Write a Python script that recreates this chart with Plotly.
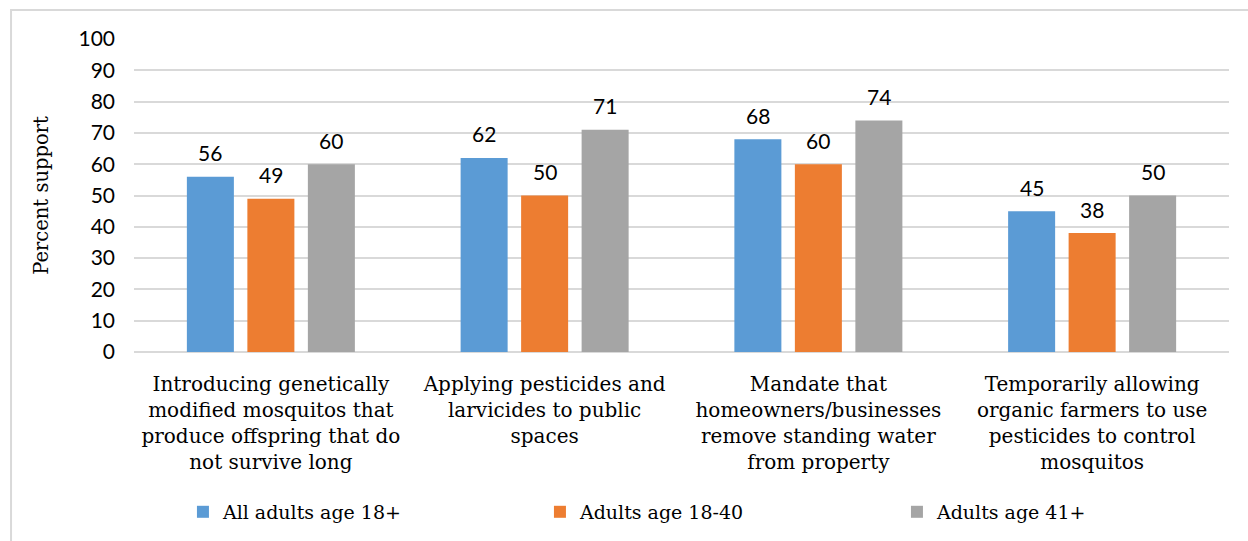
import plotly.graph_objects as go

# Survey: support for mosquito-control measures, by age group
categories = [
    "Introducing genetically<br>modified mosquitos that<br>produce offspring that do<br>not survive long",
    "Applying pesticides and<br>larvicides to public<br>spaces",
    "Mandate that<br>homeowners/businesses<br>remove standing water<br>from property",
    "Temporarily allowing<br>organic farmers to use<br>pesticides to control<br>mosquitos",
]
series_names = ["All adults age 18+", "Adults age 18-40", "Adults age 41+"]
all_adults = [56, 62, 68, 45]
adults_18_40 = [49, 50, 60, 38]
adults_41_plus = [60, 71, 74, 50]
y_ticks = [0, 10, 20, 30, 40, 50, 60, 70, 80, 90, 100]

colors = ["#5b9bd5", "#ed7d31", "#a5a5a5"]
serif = "DejaVu Serif"
sans = "Lato"

W, H = 1248, 541
M = dict(l=134, r=19, t=39, b=189)
BARGAP = 0.337
plot_w = W - M["l"] - M["r"]
slot_px = plot_w / len(categories) * (1 - BARGAP) / len(series_names)

fig = go.Figure()
all_series = [all_adults, adults_18_40, adults_41_plus]
for name, vals, col in zip(series_names, all_series, colors):
    fig.add_trace(go.Bar(
        x=categories, y=vals, name=name, marker_color=col, marker_line_width=0,
    ))

# value labels above each bar, shifted to sit over its bar within the group
for i, vals in enumerate(all_series):
    offset = (i - (len(all_series) - 1) / 2) * slot_px
    for cat, v in zip(categories, vals):
        fig.add_annotation(x=cat, y=v, text=str(v), showarrow=False,
                           xshift=offset, yshift=24, yanchor="middle",
                           font=dict(family=sans, size=21, color="#000000"))

# outer chart frame
fig.add_shape(type="rect", xref="paper", yref="paper",
              x0=-0.1123, x1=1.02, y0=-0.62, y1=1.0927,
              line=dict(color="#d9d9d9", width=2), fillcolor="rgba(0,0,0,0)", layer="below")

fig.update_layout(
    width=W, height=H,
    margin=dict(M, autoexpand=False),
    paper_bgcolor="white", plot_bgcolor="white",
    barmode="group", bargap=BARGAP, bargroupgap=0.223,
    font=dict(family=serif, size=20, color="#000000"),
    xaxis=dict(tickfont=dict(family=serif, size=20, color="#000000"),
               showgrid=False, showline=False, ticks="", automargin=False,
               ticklabelstandoff=18),
    yaxis=dict(range=[0, 100], tickvals=y_ticks, ticktext=[str(t) for t in y_ticks],
               tickfont=dict(family=sans, size=21, color="#000000"),
               showgrid=True, gridcolor="#d9d9d9", gridwidth=1.5,
               zeroline=True, zerolinecolor="#d9d9d9", zerolinewidth=1.5,
               ticks="", ticklabelstandoff=18, automargin=False,
               title=dict(text="Percent support", font=dict(family=serif, size=19.5, color="#000000"),
                          standoff=24)),
    legend=dict(orientation="h", x=0.0447, xanchor="left", y=-0.511, yanchor="middle",
                entrywidth=312, entrywidthmode="pixels",
                font=dict(family=serif, size=19, color="#000000"),
                itemwidth=30),
    showlegend=True,
)

fig.write_html("out.html")
